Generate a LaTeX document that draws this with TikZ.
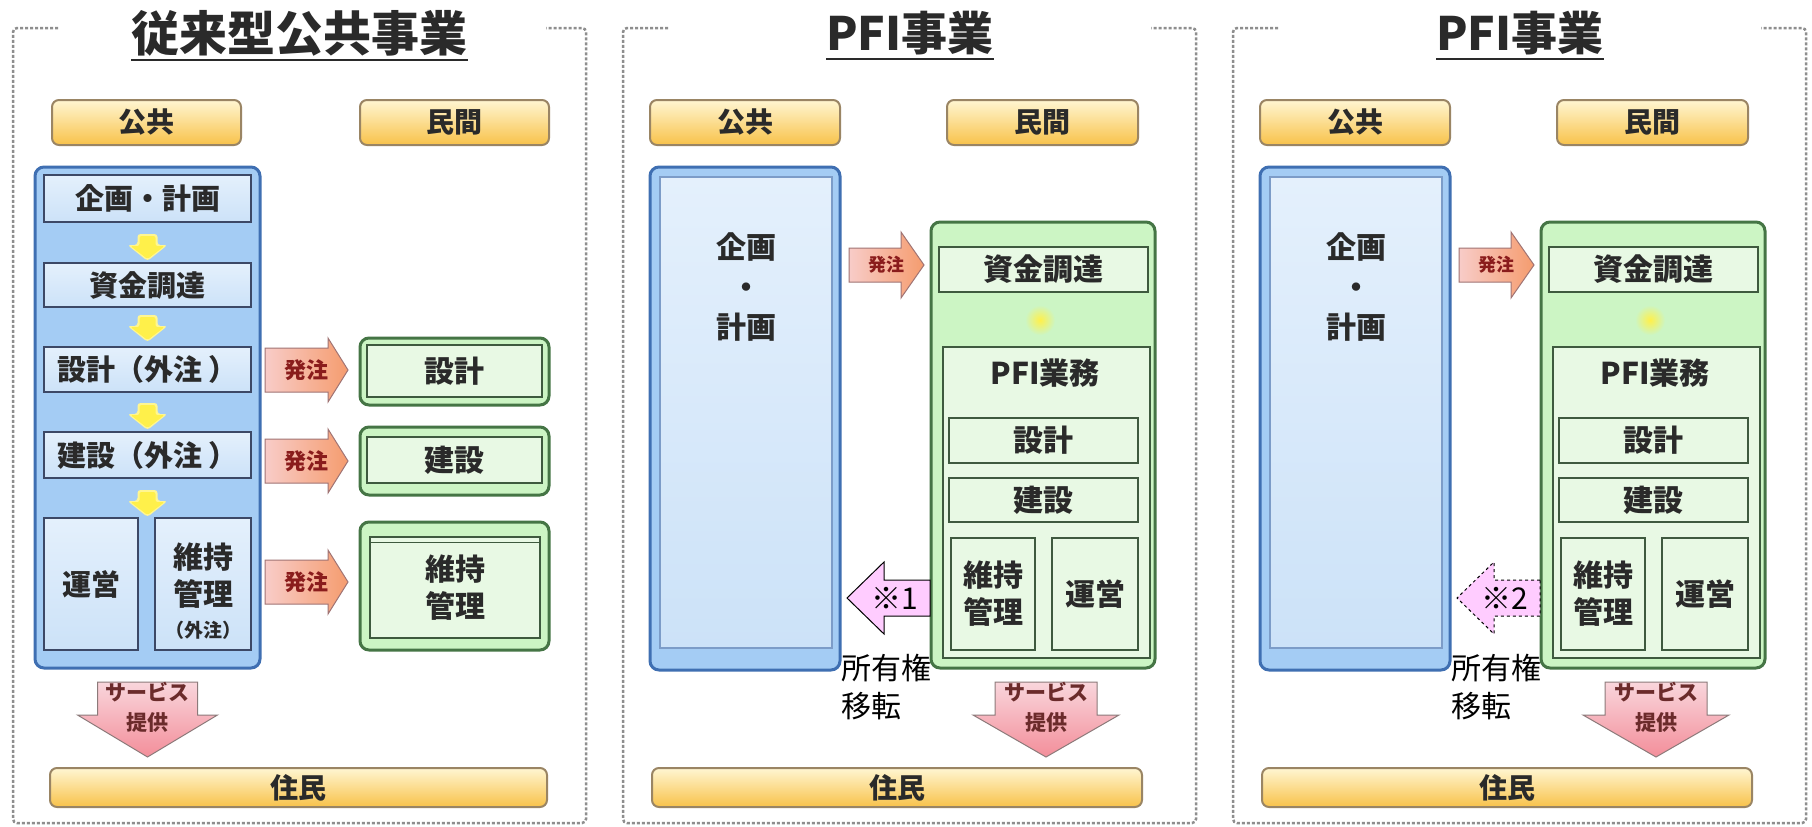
\documentclass[tikz,border=0pt]{standalone}
\usepackage{fontspec}
\setmainfont{Noto Sans CJK JP}
\usetikzlibrary{calc}
\definecolor{txt}{HTML}{2A2A2A}
\definecolor{frm}{HTML}{8E8E8E}
\definecolor{hdrT}{HTML}{FFF6D2}
\definecolor{hdrB}{HTML}{F8C24A}
\definecolor{hdrD}{HTML}{9A8564}
\definecolor{bluO}{HTML}{A4CCF4}
\definecolor{bluD}{HTML}{3F6FB2}
\definecolor{bluIT}{HTML}{E4F0FC}
\definecolor{bluIB}{HTML}{CCE2F8}
\definecolor{bluID}{HTML}{3C4866}
\definecolor{bluLD}{HTML}{7C9CC8}
\definecolor{grnO}{HTML}{CCF5C4}
\definecolor{grnI}{HTML}{E8F9E4}
\definecolor{grnD}{HTML}{457545}
\definecolor{grnID}{HTML}{3E5A3E}
\definecolor{ordL}{HTML}{F8CCC8}
\definecolor{ordR}{HTML}{F59C6E}
\definecolor{ordD}{HTML}{A07474}
\definecolor{ordT}{HTML}{8A1C1C}
\definecolor{svcT}{HTML}{F9D6DC}
\definecolor{svcB}{HTML}{F38E9A}
\definecolor{svcD}{HTML}{8C7A7A}
\definecolor{svcTx}{HTML}{6B2B2B}
\definecolor{ownF}{HTML}{FFCCFF}
\definecolor{yel}{HTML}{FFF04A}

\newcommand\boxat[7]{\node[#1,minimum width={#4-#2},minimum height={#5-#3}] (#7) at ({(#2+#4)/2},{(#3+#5)/2}) {#6};}
\newcommand\yarr[2]{\begin{scope}[shift={(#1,#2)}]\fill[yel!60,rounded corners=3pt] (-10,-13) -- (10,-13) -- (10,-2) -- (20,-2) -- (0,14) -- (-20,-2) -- (-10,-2) -- cycle;\fill[yel,rounded corners=2pt] (-8,-11) -- (8,-11) -- (8,-1) -- (17,-1) -- (0,12) -- (-17,-1) -- (-8,-1) -- cycle;\end{scope}}
\newcommand\ordarr[8]{%
  \path[draw=ordD,line width=1pt,left color=ordL,right color=ordR] (#1,#4-#5) -- (#2,#4-#5) -- (#2,#4-#6) -- (#3,#4) -- (#2,#4+#6) -- (#2,#4+#5) -- (#1,#4+#5) -- cycle;
  \node[ordtxt,font=\bfseries\fontsize{#7}{#7}\selectfont] (#8) at ({(#1+#3)/2},#4) {発注};}
\newcommand\svcarr[4]{%
  \path[draw=svcD,line width=1pt,top color=svcT,bottom color=svcB] (#1-#2,682) -- (#1+#2,682) -- (#1+#2,715) -- (#1+#3,715) -- (#1,757) -- (#1-#3,715) -- (#1-#2,715) -- cycle;
  \node[svctxt] (#4) at (#1,707) {サービス\\提供};}

\newcommand\pfipanel[3]{%
  \draw[dashframe] (668,28) -- (623,28) -- (623,823) -- (1196,823) -- (1196,28) -- (1151,28);
  \node[ttl] (t#1) at (910,33) {PFI事業};
  \draw[uline] ($(t#1.south west)+(0,4)$) -- ($(t#1.south east)+(0,4)$);
  \boxat{hdr}{650}{100}{840}{145}{公共}{pub#1}
  \boxat{hdr}{947}{100}{1138}{145}{民間}{pri#1}
  \boxat{bluout}{650}{167}{840}{670}{}{blue#1}
  \boxat{bluin2}{660}{177}{832}{648}{}{blueI#1}
  \node[txtb,font=\bfseries\fontsize{30}{40}\selectfont] (plan#1) at (746,287) {企画\\・\\計画};
  \ordarr{849}{901}{924}{265}{17}{33}{18}{ord#1}
  \boxat{grnout}{931}{222}{1155}{668}{}{grn#1}
  \boxat{grnin}{939}{247}{1148}{292}{資金調達}{fund#1}
  \shade[inner color=yel,outer color=grnO] (1040,320) circle (15pt);
  \boxat{grnin}{943}{347}{1150}{658}{}{pfi#1}
  \node[txtb] (pfiT#1) at (1045,373) {PFI業務};
  \boxat{grnin}{949}{418}{1138}{463}{設計}{des#1}
  \boxat{grnin}{949}{478}{1138}{522}{建設}{con#1}
  \boxat{grnin}{951}{538}{1035}{650}{維持\\管理}{mt#1}
  \boxat{grnin}{1052}{538}{1138}{650}{運営}{op#1}
  \path[own,#2] (930,580) -- (884,580) -- (884,562) -- (847,598) -- (884,634) -- (884,616) -- (930,616) -- cycle;
  \node[owntxt] (own#1) at (895,598) {#3};
  \node[owntxt,anchor=west,align=left] (ownT#1) at (841,687) {所有権\\移転};
  \svcarr{1046}{51}{73}{svc#1}
  \boxat{hdr}{652}{768}{1142}{807}{住民}{res#1}
}

\begin{document}
\begin{tikzpicture}[x=1pt,y=-1pt,
  dashframe/.style={draw=frm,line width=2.5pt,dash pattern=on 3pt off 2pt,rounded corners=4pt},
  ttl/.style={font=\bfseries\fontsize{46}{50}\selectfont,text=txt,inner sep=0pt},
  uline/.style={draw=txt,line width=2.5pt},
  hdr/.style={rounded corners=7pt,top color=hdrT,bottom color=hdrB,draw=hdrD,line width=2pt,font=\bfseries\fontsize{28}{32}\selectfont,text=txt,inner sep=0pt},
  bluout/.style={rounded corners=9pt,fill=bluO,draw=bluD,line width=3pt,inner sep=0pt},
  bluin/.style={top color=bluIT,bottom color=bluIB,draw=bluID,line width=1.5pt,font=\bfseries\fontsize{29}{36}\selectfont,text=txt,inner sep=0pt,align=center},
  bluin2/.style={top color=bluIT,bottom color=bluIB,draw=bluLD,line width=1.5pt,inner sep=0pt},
  grnout/.style={rounded corners=9pt,fill=grnO,draw=grnD,line width=3pt,inner sep=0pt},
  grnin/.style={fill=grnI,draw=grnID,line width=1.5pt,font=\bfseries\fontsize{30}{37}\selectfont,text=txt,inner sep=0pt,align=center},
  txtb/.style={font=\bfseries\fontsize{30}{37}\selectfont,text=txt,inner sep=0pt,align=center},
  smalltxt/.style={font=\bfseries\fontsize{19}{22}\selectfont,text=txt,inner sep=0pt},
  ordtxt/.style={text=ordT,inner sep=0pt},
  svctxt/.style={font=\bfseries\fontsize{21}{30}\selectfont,text=svcTx,inner sep=0pt,align=center},
  own/.style={fill=ownF,draw=black,line width=1pt},
  owntxt/.style={font=\fontsize{30}{38}\selectfont,text=black,inner sep=0pt}]
\fill[white] (0,0) rectangle (1812,827);
\useasboundingbox (0,0) rectangle (1812,827);

% ---------- Panel 1 ----------
\draw[dashframe] (58,28) -- (13,28) -- (13,823) -- (586,823) -- (586,28) -- (546,28);
\node[ttl,font=\bfseries\fontsize{48}{52}\selectfont] (t1) at (299.5,33) {従来型公共事業};
\draw[uline] ($(t1.south west)+(0,4)$) -- ($(t1.south east)+(0,4)$);
\boxat{hdr}{52}{100}{241}{145}{公共}{pub1}
\boxat{hdr}{360}{100}{549}{145}{民間}{pri1}
\boxat{bluout}{35}{167}{260}{668}{}{blue1}
\boxat{bluin}{44}{175}{251}{222}{企画・計画}{plan1}
\boxat{bluin}{44}{263}{251}{307}{資金調達}{fund1}
\boxat{bluin}{44}{347}{251}{392}{設計（外注 ）}{des1}
\boxat{bluin}{44}{432}{251}{478}{建設（外注 ）}{con1}
\boxat{bluin}{44}{518}{138}{650}{運営}{op1}
\boxat{bluin}{155}{518}{251}{650}{}{mt1}
\node[txtb] (mtT1) at (203,576) {維持\\管理};
\node[smalltxt] (mtS1) at (203,630) {（外注）};
\yarr{147.5}{247}
\yarr{147.5}{328}
\yarr{147.5}{416}
\yarr{147.5}{503}
\boxat{grnout}{360}{338}{549}{405}{}{gdes1}
\boxat{grnin}{367}{345}{542}{397}{設計}{gdesI1}
\boxat{grnout}{360}{427}{549}{495}{}{gcon1}
\boxat{grnin}{367}{437}{542}{483}{建設}{gconI1}
\boxat{grnout}{360}{522}{549}{650}{}{gmt1}
\boxat{grnin}{370}{537}{540}{638}{維持\\管理}{gmtI1}
\draw[grnID,line width=1.5pt] (gmtI1.north west) ++(0,6) -- ++(170,0);
\ordarr{265}{328}{348}{370}{22}{32}{22}{o1a}
\ordarr{265}{328}{348}{461}{22}{32}{22}{o1b}
\ordarr{265}{328}{348}{582}{22}{32}{22}{o1c}
\svcarr{147.5}{50}{70}{svc1}
\boxat{hdr}{50}{768}{547}{807}{住民}{res1}

% ---------- Panel 2 ----------
\begin{scope}
\pfipanel{2}{solid}{※1}
\end{scope}
% ---------- Panel 3 ----------
\begin{scope}[xshift=610pt]
\pfipanel{3}{dashed}{※2}
\end{scope}
\end{tikzpicture}
\end{document}
